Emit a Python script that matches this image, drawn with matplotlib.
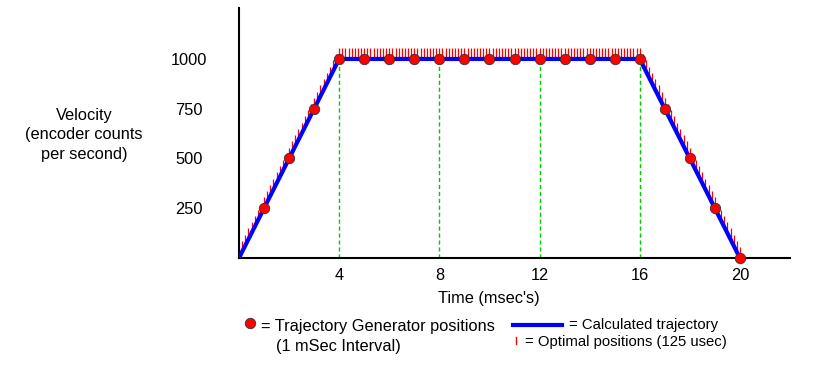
import numpy as np
import matplotlib.pyplot as plt
from matplotlib.lines import Line2D

plt.rcParams['font.family'] = ['Liberation Sans', 'DejaVu Sans']

# trapezoid profile corners (msec, counts/s)
traj_t = [0, 4, 16, 20]
traj_v = [0, 1000, 1000, 0]

# trajectory generator samples, 1 msec interval
gen_t = [1, 2, 3, 4, 5, 6, 7, 8, 9, 10, 11, 12, 13, 14, 15, 16, 17, 18, 19, 20]
gen_v = [250, 500, 750, 1000, 1000, 1000, 1000, 1000, 1000, 1000,
         1000, 1000, 1000, 1000, 1000, 1000, 750, 500, 250, 0]

# optimal positions every 125 usec
opt_t = np.arange(0, 20.001, 0.125)
opt_v = np.interp(opt_t, traj_t, traj_v)

marks = [4, 8, 12, 16]
yticks = [250, 500, 750, 1000]
xticks = [4, 8, 12, 16, 20]

W, H = 818, 369
fig = plt.figure(figsize=(W / 100, H / 100), dpi=100)
ax = fig.add_axes([239 / W, 1 - 258 / H, 551 / W, 250 / H])

ax.vlines(marks, 0, 1000, colors='#00cc00', linestyles=(0, (3, 2)), linewidth=1, zorder=1)
ax.vlines(opt_t, opt_v, opt_v + 55, colors='red', linewidth=0.9, zorder=2)
ax.plot(traj_t, traj_v, color='#0000ff', linewidth=3, zorder=3)
ax.plot(gen_t, gen_v, 'o', color='red', markeredgecolor='#333333',
        markeredgewidth=0.6, markersize=7.5, zorder=4, clip_on=False)

ax.set_xlim(0, 22)
ax.set_ylim(0, 1256)
ax.set_xticks(xticks)
ax.set_yticks(yticks)
ax.tick_params(length=0, labelsize=11.8)
ax.tick_params(axis='y', pad=36)
ax.tick_params(axis='x', pad=7)
for lbl in ax.get_yticklabels():
    lbl.set_horizontalalignment('center')
for s in ['top', 'right']:
    ax.spines[s].set_visible(False)
for s in ['left', 'bottom']:
    ax.spines[s].set_linewidth(1.5)

fig.text(489 / W, 1 - 298 / H, "Time (msec's)", ha='center', va='center', fontsize=11.8)
fig.text(84 / W, 1 - 135 / H, "Velocity\n(encoder counts\nper second)",
         ha='center', va='center', fontsize=11.8, linespacing=1.4)

# legend drawn by hand
fig.add_artist(Line2D([250 / W], [1 - 323 / H], marker='o', color='red',
                      markeredgecolor='#333333', markeredgewidth=0.6, markersize=7.5))
fig.text(261 / W, 1 - 326 / H, "= Trajectory Generator positions", fontsize=11.8, va='center')
fig.text(276 / W, 1 - 346 / H, "(1 mSec Interval)", fontsize=11.8, va='center')
fig.add_artist(Line2D([513 / W, 562 / W], [1 - 325 / H] * 2, color='#0000ff', linewidth=3))
fig.text(569 / W, 1 - 325 / H, "= Calculated trajectory", fontsize=10.7, va='center')
fig.add_artist(Line2D([516 / W] * 2, [1 - 344 / H, 1 - 337 / H], color='red', linewidth=1))
fig.text(525 / W, 1 - 342 / H, "= Optimal positions (125 usec)", fontsize=10.7, va='center')

fig.savefig('out.png', dpi=100)
